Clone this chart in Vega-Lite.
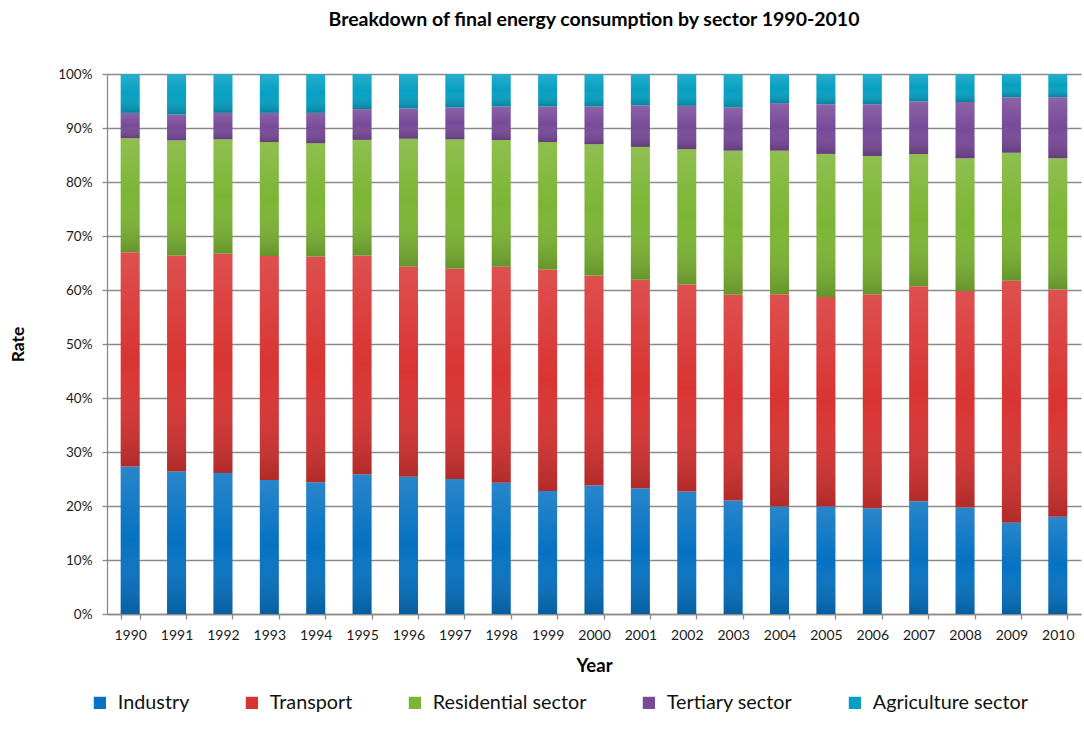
{
  "$schema": "https://vega.github.io/schema/vega-lite/v6.json",
  "width": 974,
  "height": 540,
  "autosize": {"type": "none"},
  "padding": {"left": 107, "top": 74, "right": 3, "bottom": 115},
  "background": "white",
  "title": {
    "text": "Breakdown of final energy consumption by sector 1990-2010",
    "font": "Lato",
    "fontSize": 19.5,
    "fontWeight": "bold",
    "color": "#000000",
    "anchor": "middle",
    "frame": "group",
    "offset": 37
  },
  "data": {
    "values": [
      {"year": "1990", "sector": "Industry", "share": 27.3},
      {"year": "1990", "sector": "Transport", "share": 39.7},
      {"year": "1990", "sector": "Residential sector", "share": 21.1},
      {"year": "1990", "sector": "Tertiary sector", "share": 4.7},
      {"year": "1990", "sector": "Agriculture sector", "share": 7.2},
      {"year": "1991", "sector": "Industry", "share": 26.4},
      {"year": "1991", "sector": "Transport", "share": 40.0},
      {"year": "1991", "sector": "Residential sector", "share": 21.3},
      {"year": "1991", "sector": "Tertiary sector", "share": 4.8},
      {"year": "1991", "sector": "Agriculture sector", "share": 7.5},
      {"year": "1992", "sector": "Industry", "share": 26.1},
      {"year": "1992", "sector": "Transport", "share": 40.6},
      {"year": "1992", "sector": "Residential sector", "share": 21.2},
      {"year": "1992", "sector": "Tertiary sector", "share": 4.9},
      {"year": "1992", "sector": "Agriculture sector", "share": 7.2},
      {"year": "1993", "sector": "Industry", "share": 24.8},
      {"year": "1993", "sector": "Transport", "share": 41.5},
      {"year": "1993", "sector": "Residential sector", "share": 21.1},
      {"year": "1993", "sector": "Tertiary sector", "share": 5.4},
      {"year": "1993", "sector": "Agriculture sector", "share": 7.2},
      {"year": "1994", "sector": "Industry", "share": 24.4},
      {"year": "1994", "sector": "Transport", "share": 41.8},
      {"year": "1994", "sector": "Residential sector", "share": 21.0},
      {"year": "1994", "sector": "Tertiary sector", "share": 5.6},
      {"year": "1994", "sector": "Agriculture sector", "share": 7.2},
      {"year": "1995", "sector": "Industry", "share": 25.9},
      {"year": "1995", "sector": "Transport", "share": 40.5},
      {"year": "1995", "sector": "Residential sector", "share": 21.4},
      {"year": "1995", "sector": "Tertiary sector", "share": 5.7},
      {"year": "1995", "sector": "Agriculture sector", "share": 6.5},
      {"year": "1996", "sector": "Industry", "share": 25.4},
      {"year": "1996", "sector": "Transport", "share": 38.9},
      {"year": "1996", "sector": "Residential sector", "share": 23.7},
      {"year": "1996", "sector": "Tertiary sector", "share": 5.6},
      {"year": "1996", "sector": "Agriculture sector", "share": 6.4},
      {"year": "1997", "sector": "Industry", "share": 25.0},
      {"year": "1997", "sector": "Transport", "share": 39.0},
      {"year": "1997", "sector": "Residential sector", "share": 23.9},
      {"year": "1997", "sector": "Tertiary sector", "share": 5.9},
      {"year": "1997", "sector": "Agriculture sector", "share": 6.2},
      {"year": "1998", "sector": "Industry", "share": 24.3},
      {"year": "1998", "sector": "Transport", "share": 40.0},
      {"year": "1998", "sector": "Residential sector", "share": 23.5},
      {"year": "1998", "sector": "Tertiary sector", "share": 6.2},
      {"year": "1998", "sector": "Agriculture sector", "share": 6.0},
      {"year": "1999", "sector": "Industry", "share": 22.8},
      {"year": "1999", "sector": "Transport", "share": 41.0},
      {"year": "1999", "sector": "Residential sector", "share": 23.6},
      {"year": "1999", "sector": "Tertiary sector", "share": 6.6},
      {"year": "1999", "sector": "Agriculture sector", "share": 6.0},
      {"year": "2000", "sector": "Industry", "share": 23.8},
      {"year": "2000", "sector": "Transport", "share": 38.9},
      {"year": "2000", "sector": "Residential sector", "share": 24.3},
      {"year": "2000", "sector": "Tertiary sector", "share": 7.0},
      {"year": "2000", "sector": "Agriculture sector", "share": 6.0},
      {"year": "2001", "sector": "Industry", "share": 23.3},
      {"year": "2001", "sector": "Transport", "share": 38.6},
      {"year": "2001", "sector": "Residential sector", "share": 24.6},
      {"year": "2001", "sector": "Tertiary sector", "share": 7.7},
      {"year": "2001", "sector": "Agriculture sector", "share": 5.8},
      {"year": "2002", "sector": "Industry", "share": 22.7},
      {"year": "2002", "sector": "Transport", "share": 38.3},
      {"year": "2002", "sector": "Residential sector", "share": 25.1},
      {"year": "2002", "sector": "Tertiary sector", "share": 8.0},
      {"year": "2002", "sector": "Agriculture sector", "share": 5.9},
      {"year": "2003", "sector": "Industry", "share": 21.0},
      {"year": "2003", "sector": "Transport", "share": 38.1},
      {"year": "2003", "sector": "Residential sector", "share": 26.7},
      {"year": "2003", "sector": "Tertiary sector", "share": 8.0},
      {"year": "2003", "sector": "Agriculture sector", "share": 6.2},
      {"year": "2004", "sector": "Industry", "share": 19.9},
      {"year": "2004", "sector": "Transport", "share": 39.3},
      {"year": "2004", "sector": "Residential sector", "share": 26.6},
      {"year": "2004", "sector": "Tertiary sector", "share": 8.8},
      {"year": "2004", "sector": "Agriculture sector", "share": 5.4},
      {"year": "2005", "sector": "Industry", "share": 19.9},
      {"year": "2005", "sector": "Transport", "share": 38.8},
      {"year": "2005", "sector": "Residential sector", "share": 26.5},
      {"year": "2005", "sector": "Tertiary sector", "share": 9.2},
      {"year": "2005", "sector": "Agriculture sector", "share": 5.6},
      {"year": "2006", "sector": "Industry", "share": 19.6},
      {"year": "2006", "sector": "Transport", "share": 39.6},
      {"year": "2006", "sector": "Residential sector", "share": 25.6},
      {"year": "2006", "sector": "Tertiary sector", "share": 9.6},
      {"year": "2006", "sector": "Agriculture sector", "share": 5.6},
      {"year": "2007", "sector": "Industry", "share": 20.9},
      {"year": "2007", "sector": "Transport", "share": 39.8},
      {"year": "2007", "sector": "Residential sector", "share": 24.5},
      {"year": "2007", "sector": "Tertiary sector", "share": 9.7},
      {"year": "2007", "sector": "Agriculture sector", "share": 5.1},
      {"year": "2008", "sector": "Industry", "share": 19.7},
      {"year": "2008", "sector": "Transport", "share": 40.1},
      {"year": "2008", "sector": "Residential sector", "share": 24.6},
      {"year": "2008", "sector": "Tertiary sector", "share": 10.4},
      {"year": "2008", "sector": "Agriculture sector", "share": 5.2},
      {"year": "2009", "sector": "Industry", "share": 16.9},
      {"year": "2009", "sector": "Transport", "share": 44.8},
      {"year": "2009", "sector": "Residential sector", "share": 23.7},
      {"year": "2009", "sector": "Tertiary sector", "share": 10.3},
      {"year": "2009", "sector": "Agriculture sector", "share": 4.3},
      {"year": "2010", "sector": "Industry", "share": 18.0},
      {"year": "2010", "sector": "Transport", "share": 42.1},
      {"year": "2010", "sector": "Residential sector", "share": 24.3},
      {"year": "2010", "sector": "Tertiary sector", "share": 11.3},
      {"year": "2010", "sector": "Agriculture sector", "share": 4.3}
    ]
  },
  "transform": [
    {
      "calculate": "indexof(['Industry','Transport','Residential sector','Tertiary sector','Agriculture sector'], datum.sector)",
      "as": "stack_rank"
    }
  ],
  "encoding": {
    "x": {
      "field": "year",
      "type": "ordinal",
      "scale": {"paddingInner": 0.59, "paddingOuter": 0.295},
      "axis": {
        "title": "Year",
        "labelAngle": 0,
        "labelFontSize": 14,
        "labelColor": "#1a1a1a",
        "labelPadding": 9,
        "tickBand": "extent",
        "tickSize": 5,
        "titleFontSize": 18.5,
        "titlePadding": 14
      }
    },
    "y": {
      "field": "share",
      "type": "quantitative",
      "stack": "normalize",
      "scale": {"domain": [0, 1]},
      "axis": {
        "title": "Rate",
        "format": ".0%",
        "values": [0, 0.1, 0.2, 0.3, 0.4, 0.5, 0.6, 0.7, 0.8, 0.9, 1],
        "labelFontSize": 13.5,
        "labelColor": "#1a1a1a",
        "labelPadding": 10,
        "tickSize": 5,
        "grid": true,
        "titleFontSize": 17.5,
        "titleX": -89,
        "titleY": 270,
        "titleBaseline": "middle"
      }
    },
    "order": {"field": "stack_rank", "type": "quantitative", "sort": "ascending"}
  },
  "layer": [
    {
      "mark": {"type": "bar"},
      "encoding": {
        "color": {
          "field": "sector",
          "type": "nominal",
          "sort": ["Industry", "Transport", "Residential sector", "Tertiary sector", "Agriculture sector"],
          "scale": {
            "domain": ["Industry", "Transport", "Residential sector", "Tertiary sector", "Agriculture sector"],
            "range": ["#0672c2", "#d83432", "#7cb534", "#784a98", "#06a0c2"]
          },
          "legend": {
            "title": null,
            "orient": "none",
            "legendX": -17,
            "legendY": 619,
            "padding": 0,
            "direction": "horizontal",
            "columns": 5,
            "gridAlign": "none",
            "columnPadding": 52,
            "symbolType": "square",
            "symbolSize": 150,
            "symbolStrokeWidth": 0,
            "labelOffset": 8,
            "labelFontSize": 19.8,
            "labelColor": "#111111",
            "labelLimit": 300
          }
        }
      }
    },
    {
      "mark": {
        "type": "bar",
        "color": {
          "gradient": "linear",
          "x1": 0, "y1": 0, "x2": 0, "y2": 1,
          "stops": [
            {"offset": 0, "color": "rgba(255,255,255,0.14)"},
            {"offset": 0.5, "color": "rgba(255,255,255,0)"},
            {"offset": 1, "color": "rgba(0,0,0,0.18)"}
          ]
        }
      },
      "encoding": {
        "detail": {"field": "sector", "type": "nominal"}
      }
    }
  ],
  "config": {
    "font": "Lato",
    "view": {"stroke": null},
    "axis": {
      "domainColor": "#8a8a8a",
      "domainWidth": 1.3,
      "tickColor": "#8a8a8a",
      "tickWidth": 1.3,
      "gridColor": "#8a8a8a",
      "gridWidth": 1.3,
      "titleFont": "Lato",
      "titleFontWeight": "bold",
      "titleColor": "#000000",
      "labelFont": "Lato"
    },
    "legend": {"labelFont": "Lato"}
  }
}
